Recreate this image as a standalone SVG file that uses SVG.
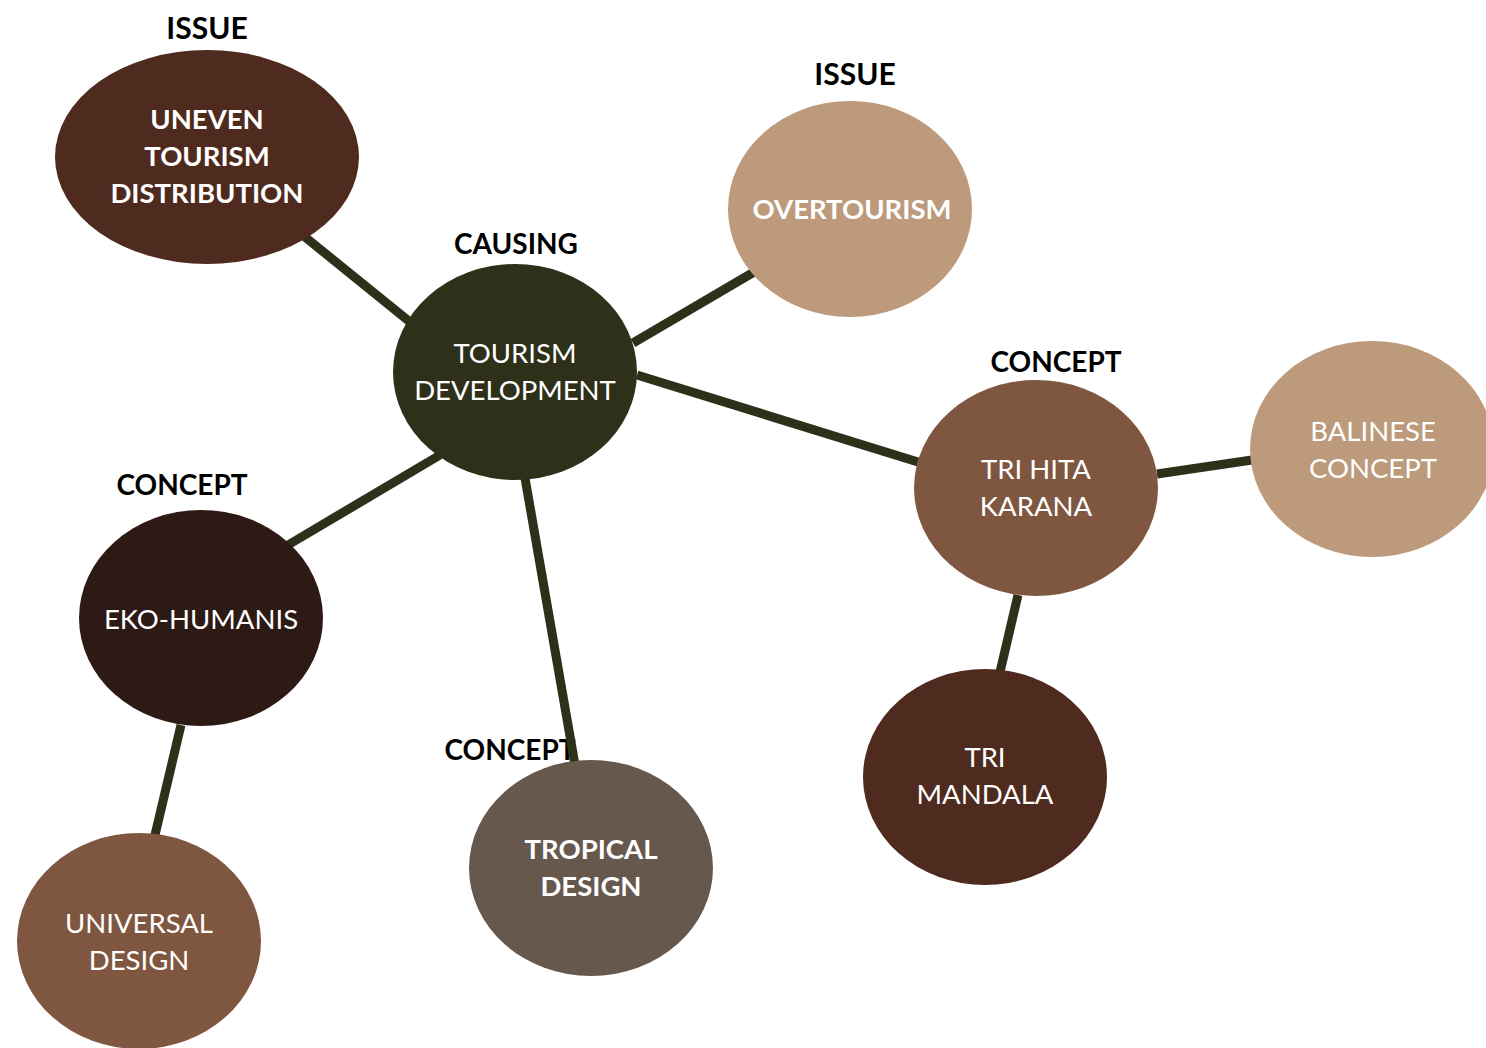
<svg xmlns="http://www.w3.org/2000/svg" width="1486" height="1048" viewBox="0 0 1486 1048">
<style>
.lbl{font-family:Lato,"Open Sans","Liberation Sans",sans-serif;font-weight:700;font-size:28px;fill:#000;text-anchor:middle}
.t{font-family:Lato,"Open Sans","Liberation Sans",sans-serif;font-size:27.5px;fill:#fff;text-anchor:middle}
.b{font-weight:700}
.edge{stroke:#2F301A;stroke-width:9;fill:none}
</style>
<rect width="1486" height="1048" fill="#fff"/>
<g id="labels">
<text class="lbl" x="207" y="39" style="font-size:30px">ISSUE</text>
<text class="lbl" x="855" y="85" style="font-size:30px">ISSUE</text>
<text class="lbl" x="516" y="254">CAUSING</text>
<text class="lbl" x="1056" y="372">CONCEPT</text>
<text class="lbl" x="182" y="495">CONCEPT</text>
<text class="lbl" x="510" y="760">CONCEPT</text>
</g>
<g id="connectors">
<line class="edge" x1="305" y1="237" x2="410" y2="322"/>
<line class="edge" x1="633" y1="343" x2="754" y2="272"/>
<line class="edge" x1="637" y1="375" x2="918" y2="462"/>
<line class="edge" x1="440" y1="455" x2="288" y2="545"/>
<line class="edge" x1="525" y1="478" x2="575" y2="765"/>
<line class="edge" x1="1157" y1="474" x2="1252" y2="460"/>
<line class="edge" x1="1018" y1="595" x2="1000" y2="672"/>
<line class="edge" x1="181" y1="725" x2="155" y2="835"/>
</g>
<g id="n-uneven">
<ellipse cx="207" cy="157" rx="152" ry="107" fill="#4F2A1E"/>
<text class="t b" x="207" y="129">UNEVEN</text>
<text class="t b" x="207" y="166">TOURISM</text>
<text class="t b" x="207" y="203">DISTRIBUTION</text>
</g>
<g id="n-overtourism">
<ellipse cx="850" cy="209" rx="122" ry="108" fill="#BC9A7B"/>
<text class="t b" x="852" y="219">OVERTOURISM</text>
</g>
<g id="n-tourism">
<ellipse cx="515" cy="372" rx="122" ry="108" fill="#2F301A"/>
<text class="t" x="515" y="363">TOURISM</text>
<text class="t" x="515" y="400">DEVELOPMENT</text>
</g>
<g id="n-trihita">
<ellipse cx="1036" cy="488" rx="122" ry="108" fill="#7F5640"/>
<text class="t" x="1036" y="479">TRI HITA</text>
<text class="t" x="1036" y="516">KARANA</text>
</g>
<g id="n-balinese">
<ellipse cx="1372" cy="449" rx="122" ry="108" fill="#BC9A7B"/>
<text class="t" x="1373" y="441">BALINESE</text>
<text class="t" x="1373" y="478">CONCEPT</text>
</g>
<g id="n-eko">
<ellipse cx="201" cy="618" rx="122" ry="108" fill="#2E1A14"/>
<text class="t" x="201" y="629">EKO-HUMANIS</text>
</g>
<g id="n-universal">
<ellipse cx="139" cy="941" rx="122" ry="108" fill="#7F5640"/>
<text class="t" x="139" y="933">UNIVERSAL</text>
<text class="t" x="139" y="970">DESIGN</text>
</g>
<g id="n-tropical">
<ellipse cx="591" cy="868" rx="122" ry="108" fill="#67584E"/>
<text class="t b" x="591" y="859">TROPICAL</text>
<text class="t b" x="591" y="896">DESIGN</text>
</g>
<g id="n-trimandala">
<ellipse cx="985" cy="777" rx="122" ry="108" fill="#4F2A1E"/>
<text class="t" x="985" y="767">TRI</text>
<text class="t" x="985" y="804">MANDALA</text>
</g>
</svg>
